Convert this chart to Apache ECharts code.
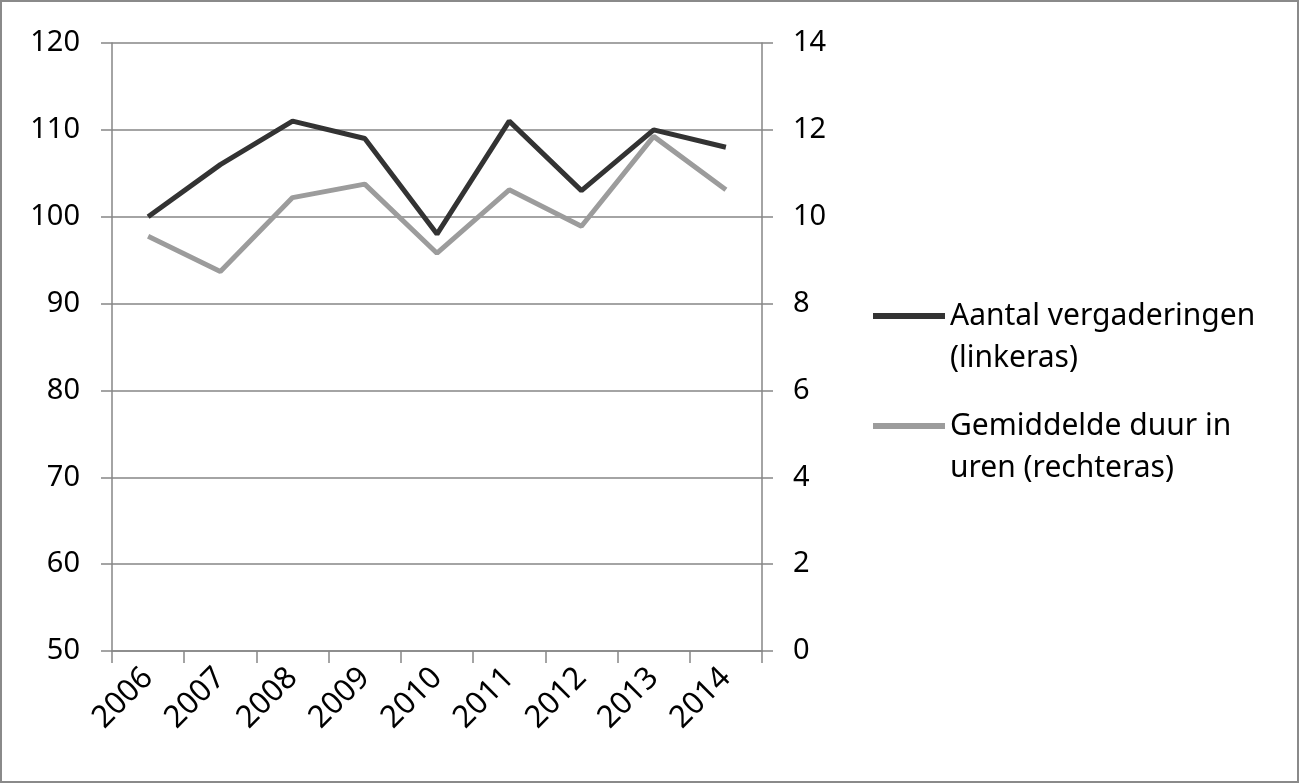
<!DOCTYPE html>
<html><head><meta charset="utf-8">
<script src="https://cdn.jsdelivr.net/npm/echarts@6/dist/echarts.min.js"></script>
<style>html,body{margin:0;padding:0;background:#fff}#c{width:1299px;height:783px;box-sizing:border-box;border:2px solid #8a8a8a}</style>
</head><body><div id="c"></div>
<script>
const years = ['2006','2007','2008','2009','2010','2011','2012','2013','2014'];
const meetings = [100, 106, 111, 109, 98, 111, 103, 110, 108];
const duration = [9.55, 8.74, 10.44, 10.75, 9.16, 10.62, 9.78, 11.85, 10.62];
const leftTicks = {min: 50, max: 120, interval: 10};
const rightTicks = {min: 0, max: 14, interval: 2};
const name1 = 'Aantal vergaderingen\n(linkeras)';
const name2 = 'Gemiddelde duur in\nuren (rechteras)';

const font = 'Noto Sans';
const chart = echarts.init(document.getElementById('c'), null, {renderer: 'canvas'});
const legendText = {fontFamily: font, fontSize: 30, color: '#000', lineHeight: 42};
const legendFmt = n => ' \n' + n;
chart.setOption({
  animation: false,
  grid: {left: 110, right: 535, top: 41, bottom: 130},
  legend: [
    {data: [name1], orient: 'vertical', left: 866, top: 246, itemWidth: 72, itemHeight: 6, itemGap: 0,
     icon: 'rect', formatter: legendFmt, textStyle: legendText},
    {data: [name2], orient: 'vertical', left: 866, top: 356, itemWidth: 72, itemHeight: 6, itemGap: 0,
     icon: 'rect', formatter: legendFmt, textStyle: legendText}
  ],
  xAxis: {
    type: 'category', data: years, boundaryGap: true,
    axisLine: {lineStyle: {color: '#868686', width: 1.5}},
    axisTick: {show: true, length: 12, lineStyle: {color: '#868686', width: 1.5}},
    axisLabel: {rotate: 45, margin: 22, fontFamily: font, fontSize: 31, color: '#000'}
  },
  yAxis: [
    {type: 'value', min: leftTicks.min, max: leftTicks.max, interval: leftTicks.interval,
     axisLine: {show: true, lineStyle: {color: '#868686', width: 1.5}},
     axisTick: {show: true, length: 11, lineStyle: {color: '#868686', width: 1.5}},
     splitLine: {show: true, lineStyle: {color: '#868686', width: 1.5}},
     axisLabel: {margin: 32, fontFamily: font, fontSize: 29, color: '#000'}},
    {type: 'value', min: rightTicks.min, max: rightTicks.max, interval: rightTicks.interval, position: 'right',
     axisLine: {show: true, lineStyle: {color: '#868686', width: 1.5}},
     axisTick: {show: true, length: 11, lineStyle: {color: '#868686', width: 1.5}},
     splitLine: {show: false},
     axisLabel: {margin: 31, fontFamily: font, fontSize: 29, color: '#000'}}
  ],
  series: [
    {name: name1, type: 'line', yAxisIndex: 0, data: meetings, symbol: 'none',
     lineStyle: {color: '#333333', width: 5}, itemStyle: {color: '#333333'}},
    {name: name2, type: 'line', yAxisIndex: 1, data: duration, symbol: 'none',
     lineStyle: {color: '#9c9c9c', width: 5}, itemStyle: {color: '#9c9c9c'}}
  ]
});
</script></body></html>
